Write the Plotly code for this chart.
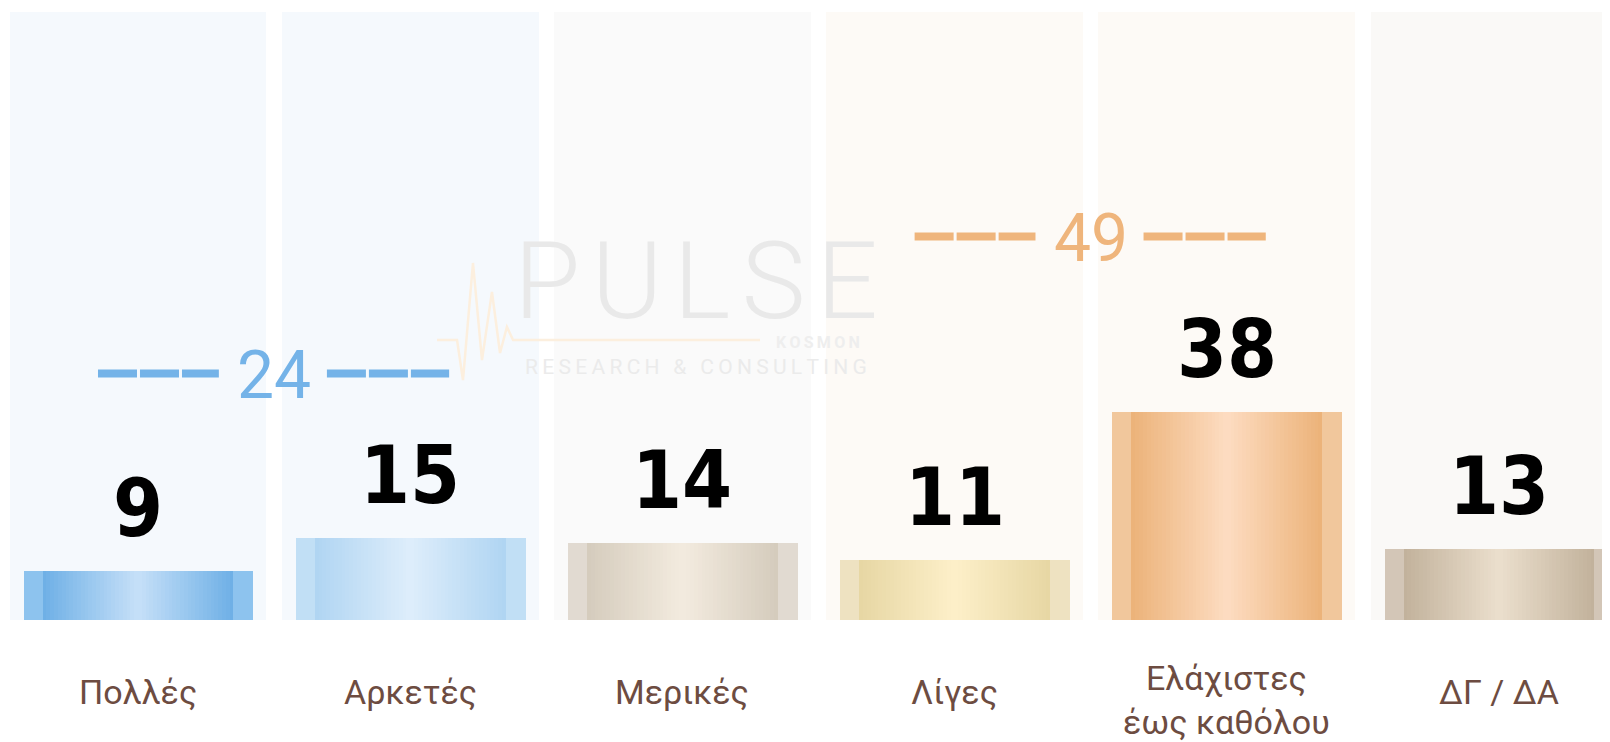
import plotly.graph_objects as go

# ---------------- data ----------------
categories = ["Πολλές", "Αρκετές", "Μερικές", "Λίγες", "Ελάχιστες<br>έως καθόλου", "ΔΓ / ΔΑ"]
values = [9, 15, 14, 11, 38, 13]
group_totals = [24, 49]
group_members = [(0, 1), (3, 4)]

# ---------------- style ----------------
W, H = 1610, 742
BODY = 8                      # default page margin around the plot div
M_L, M_R, M_T, M_B = 0, 0, 4, 130
Y_MAX = 111
X_RANGE = [-0.4776, 5.437]
PANEL_W = 0.944
BAR_W = 0.841
N_STRIPES = 60
EDGE_FRAC = 0.09

panel_colors = ["#f5f9fd", "#f5f9fd", "#fafafa", "#fdfaf6", "#fdfaf6", "#faf9f7"]
# (edge, dark, light)
bar_palettes = [
    ("#8dc3ee", "#6fb0e6", "#c6e0f8"),
    ("#c1dff5", "#b0d5f2", "#deedfb"),
    ("#e1dad1", "#d5ccbd", "#f3ebdf"),
    ("#eee2c1", "#e7d7a4", "#fdf0c9"),
    ("#f1c79c", "#ecb37a", "#fddcc1"),
    ("#d3c6b7", "#c2b29c", "#ebdfcd"),
]
group_colors = ["#74b3e8", "#efb57c"]
group_levels = [45, 70]
label_color = "#6d4c41"


def hex2rgb(h):
    h = h.lstrip("#")
    return tuple(int(h[i:i + 2], 16) for i in (0, 2, 4))


def mix(c1, c2, t):
    a, b = hex2rgb(c1), hex2rgb(c2)
    return "rgb(%d,%d,%d)" % tuple(round(a[i] + (b[i] - a[i]) * t) for i in range(3))


def stripe_color(pal, p):
    edge, dark, light = pal
    if p < EDGE_FRAC or p > 1 - EDGE_FRAC:
        return mix(edge, edge, 0)
    if p <= 0.5:
        t = (p - EDGE_FRAC) / (0.5 - EDGE_FRAC)
    else:
        t = (1 - EDGE_FRAC - p) / (0.5 - EDGE_FRAC)
    return mix(dark, light, t)


xs = list(range(len(categories)))
fig = go.Figure()

# background panels
fig.add_trace(go.Bar(
    x=xs, y=[Y_MAX] * len(xs), width=PANEL_W,
    marker=dict(color=panel_colors, line=dict(width=0)),
    hoverinfo="skip", showlegend=False))

# gradient bars built from vertical stripes
sw = BAR_W / N_STRIPES
for k in range(N_STRIPES):
    p = (k + 0.5) / N_STRIPES
    fig.add_trace(go.Bar(
        x=xs, y=values,
        width=sw * 1.25, offset=-BAR_W / 2 + k * sw,
        marker=dict(color=[stripe_color(pal, p) for pal in bar_palettes], line=dict(width=0)),
        hoverinfo="skip", showlegend=False))

# value labels
for xi, v in zip(xs, values):
    fig.add_annotation(
        x=xi, y=v, xref="x", yref="y", text=str(v), showarrow=False,
        yanchor="bottom", yshift=14,
        font=dict(family="Liberation Sans Narrow, DejaVu Sans Condensed, Roboto, sans-serif",
                  size=80, color="#000000", weight="bold"))

# category labels
for xi, c in zip(xs, categories):
    nlines = c.count("<br>") + 1
    fig.add_annotation(
        x=xi, y=0, xref="x", yref="paper", text=c, showarrow=False,
        yanchor="middle", yshift=-72 - 8 * (nlines - 1),
        font=dict(family="Roboto, sans-serif", size=34, color=label_color))


# watermark (positions given in page pixels)
def px2paper(px, py):
    return (px - BODY - M_L) / (W - M_L - M_R), (H - M_B - (py - BODY)) / (H - M_T - M_B)


pulse_px = [(437, 340), (457, 340), (463, 380), (473, 263), (482, 360), (492, 292),
            (500, 353), (507, 327), (513, 340), (760, 340)]
path = ""
for i, (a, b) in enumerate(pulse_px):
    u, v = px2paper(a, b)
    path += ("M" if i == 0 else "L") + f"{u:.4f},{v:.4f} "
fig.add_shape(type="path", path=path.strip(), xref="paper", yref="paper",
              line=dict(color="#fcefde", width=2.5), layer="above")

wx, wy = px2paper(696, 281)
fig.add_annotation(x=wx, y=wy, xref="paper", yref="paper", text="\u200a".join("PULSE"),
                   showarrow=False,
                   font=dict(family="Roboto, sans-serif", size=108, color="#e9e9e9", weight=300))
rx, ry = px2paper(696, 367)
fig.add_annotation(x=rx, y=ry, xref="paper", yref="paper",
                   text="\u2009".join("RESEARCH & CONSULTING"), showarrow=False,
                   font=dict(family="Roboto, sans-serif", size=21, color="#ebebeb"))
kx, ky = px2paper(818, 342)
fig.add_annotation(x=kx, y=ky, xref="paper", yref="paper",
                   text="\u2009".join("KOSMON"), showarrow=False,
                   font=dict(family="Roboto, sans-serif", size=16, color="#eeeeee", weight="bold"))

# group totals with dashed lines
for tot, (a, b), col, lvl in zip(group_totals, group_members, group_colors, group_levels):
    mid = (a + b) / 2
    for x0, x1 in [(a - 0.147, mid - 0.203), (mid + 0.194, b + 0.143)]:
        fig.add_trace(go.Scatter(
            x=[x0, x1], y=[lvl, lvl], mode="lines",
            line=dict(color=col, width=8, dash="39px,3px"),
            hoverinfo="skip", showlegend=False))
    fig.add_annotation(x=mid, y=lvl, xref="x", yref="y", text=str(tot), showarrow=False,
                       yanchor="middle", yshift=-2,
                       font=dict(family="Roboto, sans-serif", size=66, color=col))

fig.update_layout(
    width=W, height=H,
    margin=dict(l=M_L, r=M_R, t=M_T, b=M_B, pad=0),
    barmode="overlay", bargap=0,
    plot_bgcolor="#ffffff", paper_bgcolor="#ffffff",
    showlegend=False,
    xaxis=dict(range=X_RANGE, showgrid=False, zeroline=False, showticklabels=False,
               showline=False, fixedrange=True),
    yaxis=dict(range=[0, Y_MAX], showgrid=False, zeroline=False, showticklabels=False,
               showline=False, fixedrange=True),
)

fig.write_html("out.html")
